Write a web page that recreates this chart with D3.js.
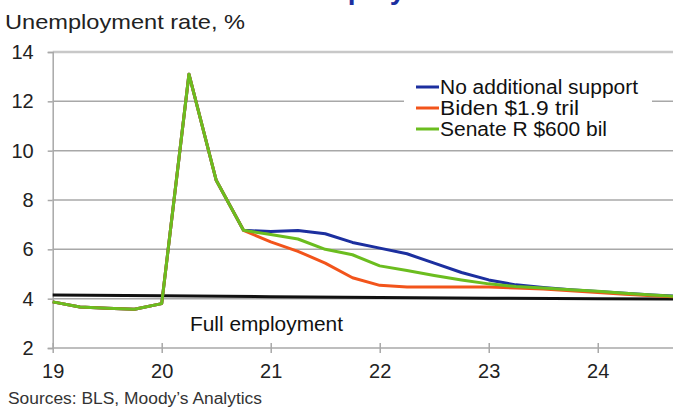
<!DOCTYPE html>
<html>
<head>
<meta charset="utf-8">
<script src="https://d3js.org/d3.v7.min.js"></script>
<style>
  body { margin: 0; background: #fff; }
  svg { display: block; font-family: "Liberation Sans", Arial, sans-serif; }
</style>
</head>
<body>
<svg id="chart" width="673" height="408"></svg>
<script>
// quarterly points, year as decimal (19 = 2019 Q1)
const quarters = [19, 19.25, 19.5, 19.75, 20, 20.25, 20.5, 20.75,
                  21, 21.25, 21.5, 21.75, 22, 22.25, 22.5, 22.75,
                  23, 23.25, 23.5, 23.75, 24, 24.25, 24.5, 24.75];
const history = [3.87, 3.66, 3.61, 3.57, 3.8, 13.1, 8.8, 6.77];
const noSupport = [6.72, 6.76, 6.63, 6.28, 6.05, 5.82, 5.44, 5.06, 4.76, 4.56, 4.45, 4.36, 4.29, 4.22, 4.15, 4.1];
const biden = [6.3, 5.92, 5.44, 4.85, 4.54, 4.47, 4.47, 4.47, 4.47, 4.43, 4.39, 4.32, 4.25, 4.18, 4.12, 4.06];
const senateR = [6.6, 6.42, 6.0, 5.78, 5.33, 5.14, 4.94, 4.76, 4.6, 4.49, 4.43, 4.36, 4.3, 4.22, 4.15, 4.08];
const fullEmpX = [19, 20, 21, 22, 23, 24, 24.75];
const fullEmp = [4.15, 4.12, 4.08, 4.05, 4.02, 4.0, 3.98];

const seriesNames = ['No additional support', 'Biden $1.9 tril', 'Senate R $600 bil'];
const seriesColors = ['#1c2f9f', '#f2541b', '#6bbd1f'];
const yTicks = [2, 4, 6, 8, 10, 12, 14];
const xTicks = [19, 20, 21, 22, 23, 24];

const svg = d3.select('#chart');
const x = d3.scaleLinear().domain([19, 24.75]).range([52.7, 679.5]);
const y = d3.scaleLinear().domain([2, 14]).range([348, 52]);

// title is cut off at the top of the picture, only descenders show
svg.append('text')
  .attr('x', 270).attr('y', -1)
  .attr('font-size', 28).attr('font-weight', 'bold')
  .attr('fill', '#1c2f9f')
  .text('Unemployment');

svg.append('text')
  .attr('x', 5).attr('y', 29)
  .attr('font-size', 21).attr('fill', '#222')
  .attr('textLength', 240).attr('lengthAdjust', 'spacingAndGlyphs')
  .text('Unemployment rate, %');

// gridlines
svg.selectAll('line.grid').data(yTicks.filter(d => d > 2))
  .join('line').attr('class', 'grid')
  .attr('x1', x(19)).attr('x2', 673)
  .attr('y1', d => y(d)).attr('y2', d => y(d))
  .attr('stroke', d => d === 14 ? '#c8c8c8' : '#a8a8a8')
  .attr('stroke-width', d => d === 14 ? 2.5 : 1.5);

// y axis
const yAxis = svg.append('g').attr('transform', `translate(${x(19)},0)`)
  .call(d3.axisLeft(y).tickValues(yTicks).tickSize(5).tickPadding(14).tickFormat(d3.format('d')));
yAxis.select('.domain').attr('stroke', '#a8a8a8').attr('stroke-width', 1.5);
yAxis.selectAll('.tick line').attr('stroke', '#a8a8a8').attr('stroke-width', 1.5);
yAxis.selectAll('.tick text').attr('font-size', 20).attr('fill', '#222')
  .attr('font-family', '"Liberation Sans", Arial, sans-serif');

// x axis
const xAxis = svg.append('g').attr('transform', `translate(0,${y(2)})`)
  .call(d3.axisBottom(x).tickValues(xTicks).tickSize(5).tickPadding(11).tickFormat(d3.format('d')));
xAxis.select('.domain').remove();
xAxis.append('line').attr('x1', x(19)).attr('x2', 673).attr('y1', 0).attr('y2', 0)
  .attr('stroke', '#a8a8a8').attr('stroke-width', 1.5);
xAxis.selectAll('.tick line').attr('y1', -5).attr('stroke', '#a8a8a8').attr('stroke-width', 1.5);
xAxis.selectAll('.tick text').attr('font-size', 20).attr('fill', '#222')
  .attr('font-family', '"Liberation Sans", Arial, sans-serif');

// full employment line
const fe = fullEmpX.map((q, i) => [q, fullEmp[i]]);
const line = d3.line().x(d => x(d[0])).y(d => y(d[1]));
svg.append('path').datum(fe).attr('d', line)
  .attr('fill', 'none').attr('stroke', '#111').attr('stroke-width', 3);

svg.append('text')
  .attr('x', 190).attr('y', 331)
  .attr('font-size', 20).attr('fill', '#111')
  .attr('textLength', 153).attr('lengthAdjust', 'spacingAndGlyphs')
  .text('Full employment');

// series: history + forecast
const series = [noSupport, biden, senateR].map(f => history.concat(f).map((v, i) => [quarters[i], v]));
svg.append('g').selectAll('path').data(series).join('path')
  .attr('d', line)
  .attr('fill', 'none')
  .attr('stroke', (d, i) => seriesColors[i])
  .attr('stroke-width', 3)
  .attr('stroke-linejoin', 'round');

// legend
const lg = svg.append('g');
lg.append('rect').attr('x', 404).attr('y', 72).attr('width', 248).attr('height', 66).attr('fill', '#fff');
const row = lg.selectAll('g').data(seriesNames).join('g')
  .attr('transform', (d, i) => `translate(416,${87 + i * 21})`);
row.append('line').attr('x1', 0).attr('x2', 23)
  .attr('stroke', (d, i) => seriesColors[i]).attr('stroke-width', 3);
row.append('text').attr('x', 24).attr('y', 7)
  .attr('font-size', 20).attr('fill', '#111')
  .attr('textLength', (d, i) => [198, 139, 167][i]).attr('lengthAdjust', 'spacingAndGlyphs')
  .text(d => d);

svg.append('text')
  .attr('x', 8).attr('y', 404)
  .attr('font-size', 16).attr('fill', '#333')
  .attr('textLength', 254).attr('lengthAdjust', 'spacingAndGlyphs')
  .text('Sources: BLS, Moody\u2019s Analytics');
</script>
</body>
</html>
